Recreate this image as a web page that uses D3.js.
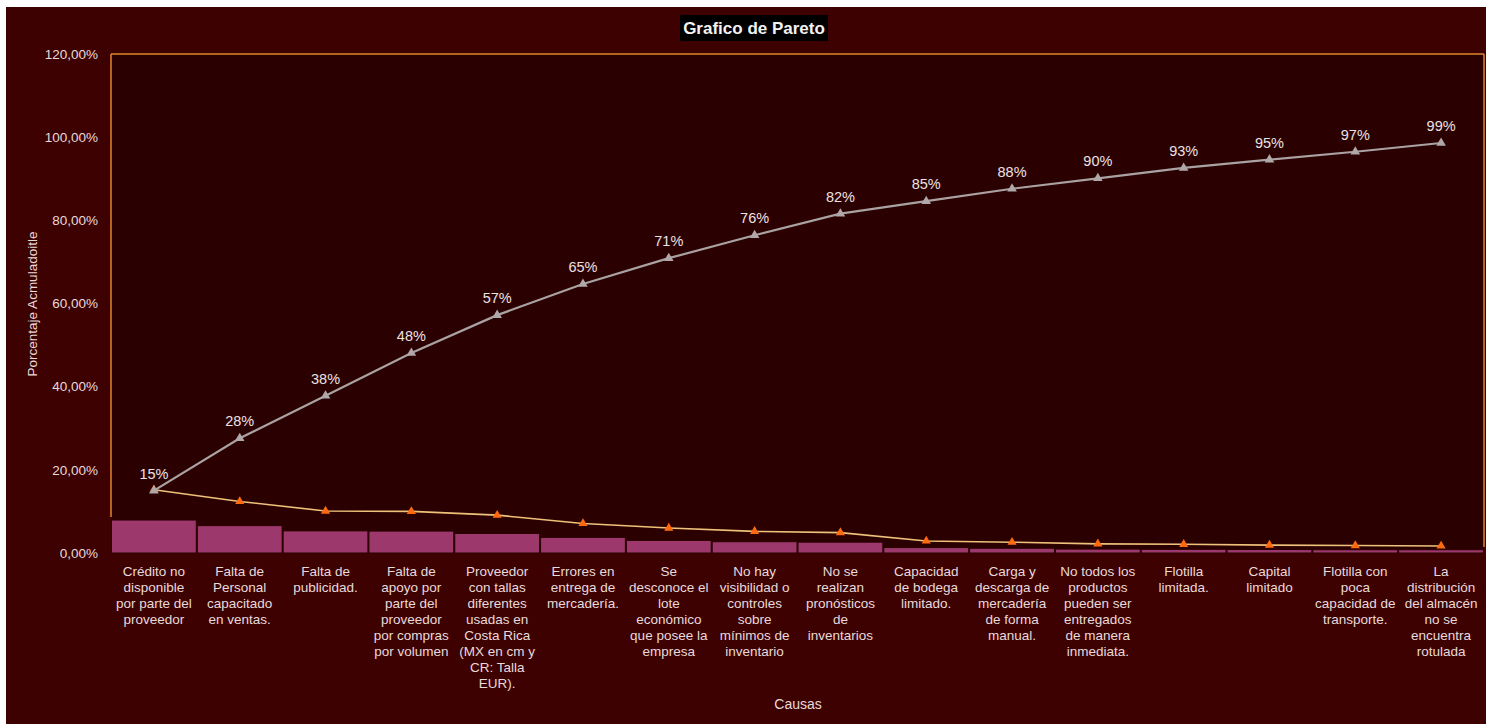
<!DOCTYPE html>
<html>
<head>
<meta charset="utf-8">
<script src="https://cdn.jsdelivr.net/npm/d3@7"></script>
<style>
  body { margin: 0; background: #fff; }
  text { font-family: "Liberation Sans", Arial, sans-serif; }
</style>
</head>
<body>
<svg id="chart" width="1486" height="724"></svg>
<script>
// causes, lines separated by \n as they wrap in the picture
const categories = [
  "Crédito no\ndisponible\npor parte del\nproveedor",
  "Falta de\nPersonal\ncapacitado\nen ventas.",
  "Falta de\npublicidad.",
  "Falta de\napoyo por\nparte del\nproveedor\npor compras\npor volumen",
  "Proveedor\ncon tallas\ndiferentes\nusadas en\nCosta Rica\n(MX en cm y\nCR: Talla\nEUR).",
  "Errores en\nentrega de\nmercadería.",
  "Se\ndesconoce el\nlote\neconómico\nque posee la\nempresa",
  "No hay\nvisibilidad o\ncontroles\nsobre\nmínimos de\ninventario",
  "No se\nrealizan\npronósticos\nde\ninventarios",
  "Capacidad\nde bodega\nlimitado.",
  "Carga y\ndescarga de\nmercadería\nde forma\nmanual.",
  "No todos los\nproductos\npueden ser\nentregados\nde manera\ninmediata.",
  "Flotilla\nlimitada.",
  "Capital\nlimitado",
  "Flotilla con\npoca\ncapacidad de\ntransporte.",
  "La\ndistribución\ndel almacén\nno se\nencuentra\nrotulada"
];

// percentage of each cause (orange line, and bars on hidden secondary axis)
const individual = [0.152, 0.124, 0.101, 0.100, 0.091, 0.071, 0.060, 0.052, 0.049, 0.029, 0.026, 0.022, 0.021, 0.019, 0.018, 0.017];
const barValues = [0.152, 0.126, 0.102, 0.101, 0.090, 0.072, 0.058, 0.052, 0.050, 0.025, 0.022, 0.018, 0.017, 0.016, 0.015, 0.015];
// cumulative percentage (grey line)
const cumulative = [0.150, 0.276, 0.378, 0.481, 0.572, 0.647, 0.709, 0.764, 0.816, 0.846, 0.876, 0.901, 0.926, 0.946, 0.965, 0.986];
const yTicks = [0, 0.2, 0.4, 0.6, 0.8, 1.0, 1.2];

const svg = d3.select("#chart");
const plotLeft = 111, plotRight = 1484, plotTop = 54, plotBottom = 553;

const esLocale = d3.formatLocale({decimal: ",", thousands: ".", grouping: [3], currency: ["", "€"]});
const tickFmt = esLocale.format(".2%");
const labelFmt = d3.format(".0%");

// backgrounds
svg.append("rect").attr("x", 6).attr("y", 7).attr("width", 1480).attr("height", 717).attr("fill", "#3d0101");
svg.append("rect").attr("x", plotLeft).attr("y", plotTop).attr("width", plotRight - plotLeft).attr("height", plotBottom - plotTop).attr("fill", "#2b0000");

const x = d3.scaleBand().domain(categories).range([plotLeft, plotRight]).padding(0);
const y = d3.scaleLinear().domain([0, 1.2]).range([plotBottom, plotTop]);
const y2 = d3.scaleLinear().domain([0, 2.3]).range([plotBottom, plotTop]); // hidden secondary axis for bars

// plot border (orange), only top/left/right like the picture
const border = svg.append("g").attr("stroke", "#e0862c").attr("stroke-width", 1.5).attr("fill", "none");
border.append("line").attr("x1", plotLeft).attr("x2", plotRight).attr("y1", plotTop).attr("y2", plotTop);
border.append("line").attr("x1", plotLeft).attr("x2", plotLeft).attr("y1", plotTop).attr("y2", 517);
border.append("line").attr("x1", plotRight).attr("x2", plotRight).attr("y1", plotTop).attr("y2", 547);

// y axis
const yAxis = svg.append("g")
  .attr("transform", "translate(" + plotLeft + ",0)")
  .call(d3.axisLeft(y).tickValues(yTicks).tickFormat(tickFmt).tickSize(0).tickPadding(13));
yAxis.select(".domain").remove();
yAxis.selectAll("text").attr("fill", "#e9dada").style("font-size", "13.5px");

// bars
svg.append("g").selectAll("rect")
  .data(barValues)
  .enter().append("rect")
  .attr("x", (d, i) => x(categories[i]) + 0.5)
  .attr("y", d => y2(d))
  .attr("width", x.bandwidth() - 1)
  .attr("height", d => plotBottom - y2(d))
  .attr("fill", "#9c386c")
  .attr("stroke", "#2a0000")
  .attr("stroke-width", 1);

const cx = (d, i) => x(categories[i]) + x.bandwidth() / 2;

// individual % line
svg.append("path")
  .datum(individual)
  .attr("fill", "none")
  .attr("stroke", "#eec27a")
  .attr("stroke-width", 1.6)
  .attr("d", d3.line().x(cx).y(d => y(d)));

svg.append("g").selectAll("path")
  .data(individual)
  .enter().append("path")
  .attr("d", d3.symbol().type(d3.symbolTriangle).size(36))
  .attr("transform", (d, i) => "translate(" + cx(d, i) + "," + y(d) + ")")
  .attr("fill", "#ff6a10");

// cumulative line
svg.append("path")
  .datum(cumulative)
  .attr("fill", "none")
  .attr("stroke", "#aaa2a2")
  .attr("stroke-width", 2.2)
  .attr("d", d3.line().x(cx).y(d => y(d)));

svg.append("g").selectAll("path")
  .data(cumulative)
  .enter().append("path")
  .attr("d", d3.symbol().type(d3.symbolTriangle).size(40))
  .attr("transform", (d, i) => "translate(" + cx(d, i) + "," + y(d) + ")")
  .attr("fill", "#b0a8a8");

svg.append("g").selectAll("text")
  .data(cumulative)
  .enter().append("text")
  .attr("x", cx)
  .attr("y", d => y(d) - 12)
  .attr("text-anchor", "middle")
  .attr("fill", "#ece2e2")
  .style("font-size", "14.5px")
  .text(d => labelFmt(d));

// category labels
const cat = svg.append("g").selectAll("text")
  .data(categories)
  .enter().append("text")
  .attr("text-anchor", "middle")
  .attr("fill", "#e9dada")
  .style("font-size", "13.5px");
cat.each(function(d) {
  const t = d3.select(this);
  d.split("\n").forEach((line, k) => {
    t.append("tspan")
      .attr("x", x(d) + x.bandwidth() / 2)
      .attr("y", 576 + k * 16)
      .text(line);
  });
});

// titles
svg.append("rect").attr("x", 680).attr("y", 15).attr("width", 148).attr("height", 26).attr("fill", "#000");
svg.append("text").attr("x", 754).attr("y", 34).attr("text-anchor", "middle")
  .attr("fill", "#f2f2f2").style("font-size", "17px").style("font-weight", "bold").text("Grafico de Pareto");

svg.append("text").attr("transform", "translate(37,304) rotate(-90)").attr("text-anchor", "middle")
  .attr("fill", "#e9dada").style("font-size", "13.5px").text("Porcentaje Acmuladoitle");

svg.append("text").attr("x", 798).attr("y", 709).attr("text-anchor", "middle")
  .attr("fill", "#e9dada").style("font-size", "14px").text("Causas");
</script>
</body>
</html>
